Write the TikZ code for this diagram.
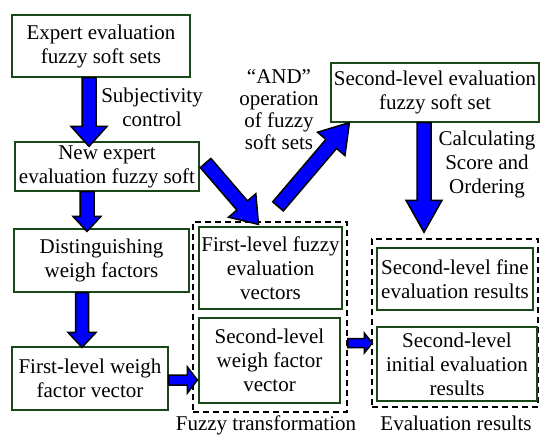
\documentclass[tikz,border=0pt]{standalone}
\usepackage{fontspec}
\setmainfont{Liberation Serif}
\usetikzlibrary{calc}

\definecolor{boxgreen}{RGB}{24,72,24}
\definecolor{arrowblue}{RGB}{0,0,255}

\newcommand{\fatarrow}[5]{%
\coordinate (fa-h) at ($(#2)!#5!(#1)$);
\draw [fatarrow] ($(#1)!#3!90:(#2)$) -- ($(fa-h)!#3!-90:(#1)$) -- ($(fa-h)!#4!-90:(#1)$) -- (#2) -- ($(fa-h)!#4!90:(#1)$) -- ($(fa-h)!#3!90:(#1)$) -- ($(#1)!#3!-90:(#2)$) -- cycle;
}

\begin{document}
\begin{tikzpicture}[x=1pt,y=-1pt,
  every node/.style={inner sep=0pt, align=center, font=\fontsize{21}{24}\selectfont},
  box/.style={draw=boxgreen, line width=1.2pt, fill=white},
  dashbox/.style={draw=black, line width=1.5pt, dash pattern=on 6pt off 4pt},
  fatarrow/.style={draw=black, fill=arrowblue, line width=1.5pt, line join=miter}]
\useasboundingbox (0,0) rectangle (540,434);
\node [dashbox, minimum width=154, minimum height=190] (fuzzyt) at (270,317) {};
\node [dashbox, minimum width=166, minimum height=168] (evalr) at (455,323) {};
\node [box, minimum width=178, minimum height=62] (expert) at (101,46) {Expert evaluation\\fuzzy soft sets};
\node [box, minimum width=184, minimum height=49] (newexp) at (107,166.5) {New expert\\evaluation fuzzy soft};
\node [box, minimum width=175, minimum height=63] (distin) at (101.5,260.5) {Distinguishing\\weigh factors};
\node [box, minimum width=156, minimum height=63] (fwfv) at (90,378.5) {First-level weigh\\factor vector};
\node [box, minimum width=143, minimum height=82] (flev) at (270.5,268) {First-level fuzzy\\evaluation\\vectors};
\node [box, minimum width=141, minimum height=85] (slwf) at (269.5,360.5) {Second-level\\weigh factor\\vector};
\node [box, minimum width=156, minimum height=62] (slfine) at (455,279) {Second-level fine\\evaluation results};
\node [box, minimum width=160, minimum height=74] (slinit) at (457,364) {Second-level\\initial evaluation\\results};
\node [box, minimum width=208, minimum height=59] (slfss) at (435,92.5) {Second-level evaluation\\fuzzy soft set};
\node (subj) at (152,107) {Subjectivity\\control};
\node [font=\fontsize{21}{22}\selectfont] (andop) at (279,110) {“AND”\\operation\\of fuzzy\\soft sets};
\node (calcs) at (487,164) {Calculating\\Score and\\Ordering};
\node (ftlbl) at (266,425) {Fuzzy transformation};
\node (erlbl) at (456,423) {Evaluation results};
\coordinate (a1t) at ($(expert.south)+(-12,0)$);
\coordinate (a1h) at ($(newexp.north)+(-18,5)$);
\fatarrow{a1t}{a1h}{7pt}{18pt}{20pt}
\coordinate (a2t) at ($(newexp.south)+(-20,0)$);
\coordinate (a2h) at ($(distin.north)+(-14.5,3)$);
\fatarrow{a2t}{a2h}{7pt}{14pt}{15pt}
\coordinate (a3t) at ($(distin.south)+(-19.5,0)$);
\coordinate (a3h) at ($(fwfv.north)+(-8,1)$);
\fatarrow{a3t}{a3h}{6.5pt}{14pt}{15pt}
\coordinate (a4t) at ($(fwfv.east)+(0,1.5)$);
\coordinate (a4h) at ($(slwf.west)+(-1,19.5)$);
\fatarrow{a4t}{a4h}{5pt}{13pt}{10pt}
\coordinate (a5t) at ($(fuzzyt.east)+(0,26)$);
\coordinate (a5h) at ($(evalr.west)+(1,20)$);
\fatarrow{a5t}{a5h}{4.5pt}{10pt}{8pt}
\coordinate (a6t) at ($(slfss.south)+(-11,0)$);
\coordinate (a6h) at ($(evalr.north)+(-31,-6)$);
\fatarrow{a6t}{a6h}{7pt}{18pt}{32pt}
\coordinate (a7t) at ($(newexp.east)+(6,-3.5)$);
\coordinate (a7h) at ($(flev.north)+(-12,-2)$);
\fatarrow{a7t}{a7h}{7pt}{18pt}{25pt}
\coordinate (a8t) at ($(flev.north)+(7.5,-20)$);
\coordinate (a8h) at ($(slfss.south west)+(19,0)$);
\fatarrow{a8t}{a8h}{7pt}{18pt}{28pt}
\end{tikzpicture}
\end{document}
